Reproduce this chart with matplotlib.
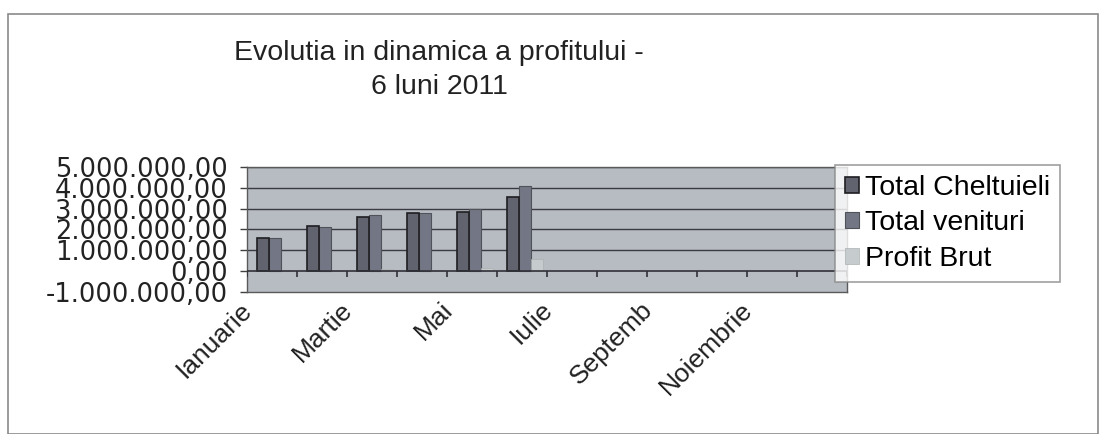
import numpy as np
import matplotlib
matplotlib.use('Agg')
import matplotlib.pyplot as plt
import matplotlib.transforms as mtransforms
from matplotlib.ticker import FuncFormatter
from matplotlib.patches import Rectangle

# Month categories (only first 6 months have data)
months = ['Ianuarie', 'Februarie', 'Martie', 'Aprilie', 'Mai', 'Iunie',
          'Iulie', 'August', 'Septemb', 'Octombrie', 'Noiembrie', 'Decembrie']
total_cheltuieli = [1600000, 2150000, 2620000, 2780000, 2850000, 3550000]
total_venituri = [1580000, 2120000, 2680000, 2800000, 3000000, 4100000]
profit_brut = [20000, 30000, 120000, 50000, 150000, 600000]
y_ticks = [-1000000, 0, 1000000, 2000000, 3000000, 4000000, 5000000]

plt.rcParams['font.family'] = ['Liberation Sans', 'DejaVu Sans']

W, H = 1107, 434
fig = plt.figure(figsize=(W / 100, H / 100), dpi=100)
fig.patch.set_facecolor('white')

# outer chart border
fig.patches.append(Rectangle((8 / W, 0), 1090 / W, 1 - 14 / H, transform=fig.transFigure,
                             fill=False, edgecolor='#8a8a8a', linewidth=1.2))

left, right, top, bottom = 247, 847, 167, 292
ax = fig.add_axes([left / W, 1 - bottom / H, (right - left) / W, (bottom - top) / H])
ax.set_facecolor('#b7bbc2')

x = np.arange(len(total_cheltuieli))
bw = 0.24
ax.bar(x - bw + 0.06, total_cheltuieli, bw, color='#61636f', edgecolor='#1e1e22',
       linewidth=1.2, label='Total Cheltuieli', zorder=3)
ax.bar(x + 0.06, total_venituri, bw, color='#737684', edgecolor='#50525a',
       linewidth=0.8, label='Total venituri', zorder=2)
ax.bar(x + bw + 0.06, profit_brut, bw, color='#c6cccd', edgecolor='#aab0b0',
       linewidth=0.5, label='Profit Brut', zorder=3)

ax.set_xlim(-0.5, len(months) - 0.5)
ax.set_ylim(y_ticks[0], y_ticks[-1])
ax.set_yticks(y_ticks)
ax.yaxis.set_major_formatter(FuncFormatter(
    lambda v, p: '{:,.2f}'.format(v).replace(',', ' ').replace('.', ',').replace(' ', '.')))
for t in y_ticks[2:]:
    ax.axhline(t, color='#3a3a42', linewidth=1, zorder=1)
ax.axhline(0, color='#303038', linewidth=1.2, zorder=4)
ax.vlines(np.arange(len(months) + 1) - 0.5, -300000, 0, color='#303038', linewidth=1.2, zorder=4)

ax.tick_params(axis='y', length=5, width=1, color='#404040', labelsize=18.5, pad=9,
               labelcolor='#222222')
for lab in ax.get_yticklabels():
    lab.set_family('DejaVu Sans')
ax.set_xticks(np.arange(0, len(months), 2))
ax.set_xticklabels(months[::2], rotation=45, ha='right', rotation_mode='anchor', fontsize=19,
                   color='#222222')
ax.tick_params(axis='x', length=0, pad=4)
shift = mtransforms.ScaledTranslation(-0.32, 0, fig.dpi_scale_trans)
for lab in ax.get_xticklabels():
    lab.set_transform(lab.get_transform() + shift)
for s in ax.spines.values():
    s.set_color('#5a5a5a')
    s.set_linewidth(1)

fig.text(439 / W, 1 - 70 / H, 'Evolutia in dinamica a profitului -\n6 luni 2011', ha='center',
         va='center', fontsize=20.5, linespacing=1.35, color='#222222')

leg = fig.legend(loc='upper left', bbox_to_anchor=(835 / W, 1 - 165 / H), fontsize=20.5,
                 frameon=True, fancybox=False, handlelength=0.5, handleheight=0.5,
                 handletextpad=0.2, labelspacing=0.33, borderpad=0.35, borderaxespad=0)
leg.get_frame().set_edgecolor('#888888')
leg.get_frame().set_linewidth(1.2)
leg.set_zorder(10)

fig.savefig('out.png', dpi=100, facecolor='white')
